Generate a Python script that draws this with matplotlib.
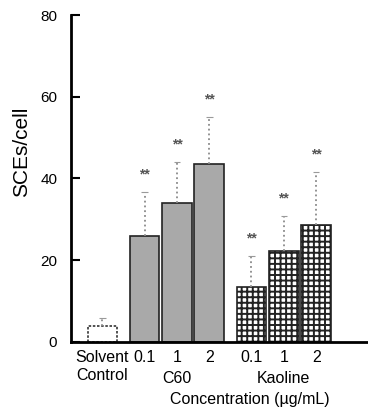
import matplotlib
matplotlib.use('Agg')
import matplotlib.pyplot as plt
from matplotlib.transforms import blended_transform_factory

plt.rcParams['font.family'] = ['Liberation Sans', 'DejaVu Sans']
plt.rcParams['hatch.linewidth'] = 1.4

# data
groups = ['Control', 'C60', 'C60', 'C60', 'Kaoline', 'Kaoline', 'Kaoline']
tick_labels = ['Solvent\nControl', '0.1', '1', '2', '0.1', '1', '2']
sces = [3.9, 25.9, 34.0, 43.5, 13.4, 22.2, 28.6]
sd = [2.0, 10.8, 10.0, 11.5, 7.6, 8.6, 13.0]
signif = ['', '**', '**', '**', '**', '**', '**']
positions = [0, 1.3, 2.3, 3.3, 4.6, 5.6, 6.6]

fig = plt.figure(figsize=(3.68, 4.08), dpi=100)
ax = fig.add_axes([0.193, 0.162, 0.807, 0.801])

styles = {
    'Control': dict(color='white', edgecolor='#333333', linestyle=(0, (1.5, 1)), linewidth=1.2),
    'C60': dict(color='#a9a9a9', edgecolor='#222222', linewidth=1.2),
    'Kaoline': dict(color='white', edgecolor='#222222', hatch='+++', linewidth=1.2),
}

for x, g, h, e, s in zip(positions, groups, sces, sd, signif):
    ax.bar(x, h, width=0.92, **styles[g])
    ax.vlines(x, h, h + e, color='#8a8a8a', linestyle=':', linewidth=1.3)
    ax.hlines(h + e, x - 0.1, x + 0.1, color='#9a9a9a', linewidth=0.8)
    if s:
        ax.text(x, h + e + 2.6, s, ha='center', va='bottom', fontsize=10,
                color='#555555', fontweight='bold')

ax.set_ylim(0, 80)
ax.set_xlim(-0.97, 8.2)
ax.set_yticks([0, 20, 40, 60, 80])
ax.set_xticks(positions)
ax.set_xticklabels(tick_labels, fontsize=11.5, linespacing=1.2)
ax.tick_params(axis='y', direction='in', length=6.5, width=1.5, pad=10, labelsize=11)
ax.tick_params(axis='x', length=0, pad=6)

for side in ['top', 'right']:
    ax.spines[side].set_visible(False)
ax.spines['left'].set_linewidth(2)
ax.spines['bottom'].set_linewidth(2)

trans = blended_transform_factory(ax.transData, ax.transAxes)
ax.text(2.3, -0.09, 'C60', transform=trans, ha='center', va='top', fontsize=11.5)
ax.text(5.6, -0.09, 'Kaoline', transform=trans, ha='center', va='top', fontsize=11.5)
ax.text(4.54, -0.152, 'Concentration (µg/mL)', transform=trans, ha='center', va='top',
        fontsize=11.5)

fig.text(0.058, 0.627, 'SCEs/cell', rotation=90, ha='center', va='center', fontsize=15)

fig.savefig('out.png', dpi=100)
